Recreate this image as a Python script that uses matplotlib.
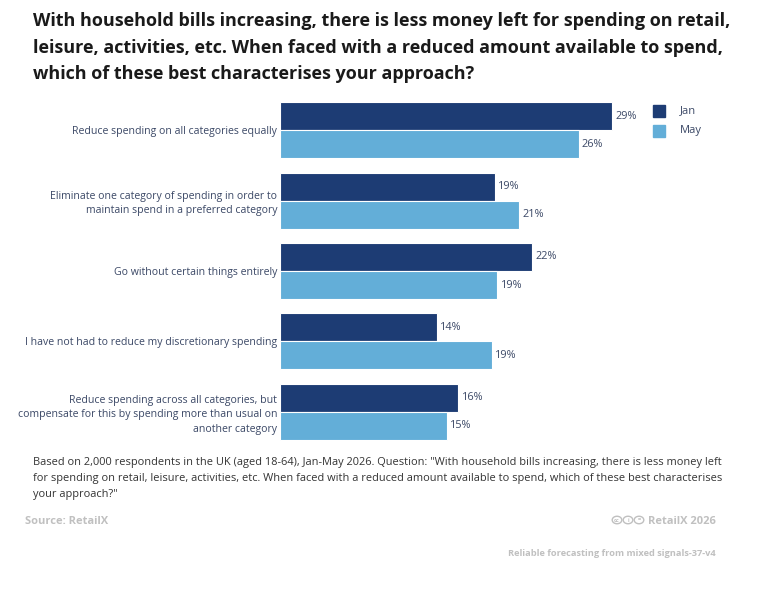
import matplotlib
matplotlib.use("Agg")
import matplotlib.pyplot as plt
from matplotlib import font_manager
from matplotlib.patches import Rectangle, Circle
import numpy as np

categories = [
    "Reduce spending on all categories equally",
    "Eliminate one category of spending in order to\nmaintain spend in a preferred category",
    "Go without certain things entirely",
    "I have not had to reduce my discretionary spending",
    "Reduce spending across all categories, but\ncompensate for this by spending more than usual on\nanother category",
]
jan = [29.0, 18.8, 22.0, 13.7, 15.6]
may = [26.1, 20.9, 19.0, 18.5, 14.6]
jan_labels = ["29%", "19%", "22%", "14%", "16%"]
may_labels = ["26%", "21%", "19%", "19%", "15%"]
series_names = ["Jan", "May"]

title = ("With household bills increasing, there is less money left for spending on retail,\n"
         "leisure, activities, etc. When faced with a reduced amount available to spend,\n"
         "which of these best characterises your approach?")
footnote = ("Based on 2,000 respondents in the UK (aged 18-64), Jan-May 2026. Question: \"With household bills increasing, there is less money left\n"
            "for spending on retail, leisure, activities, etc. When faced with a reduced amount available to spend, which of these best characterises\n"
            "your approach?\"")

names = {f.name for f in font_manager.fontManager.ttflist}
main_font = "Open Sans" if "Open Sans" in names else "DejaVu Sans"

plt.rcParams['font.family'] = [main_font, 'DejaVu Sans']

W, H = 771, 603
fig = plt.figure(figsize=(W/100, H/100), dpi=100)

dark = "#1d3c74"
light = "#63aed8"
label_col = "#3b4866"

ax_l, ax_r, ax_t, ax_b = 280, 646, 93, 449
ax = fig.add_axes([ax_l/W, 1-ax_b/H, (ax_r-ax_l)/W, (ax_b-ax_t)/H])

n = len(categories)
y = np.arange(n)
h = 0.4
ax.barh(y - h/2, jan, height=h, color=dark, edgecolor="white", linewidth=0.8)
ax.barh(y + h/2, may, height=h, color=light, edgecolor="white", linewidth=0.8)
ax.set_ylim(n - 0.5 + 0.03, -0.5 - 0.03)
ax.set_xlim(0, 32)
for i in range(n):
    ax.text(jan[i] + 0.3, y[i] - h/2, jan_labels[i], va="center", ha="left", fontsize=7.8, color=label_col)
    ax.text(may[i] + 0.3, y[i] + h/2, may_labels[i], va="center", ha="left", fontsize=7.8, color=label_col)

ax.set_yticks(y)
ax.set_yticklabels(categories, fontsize=7.6, color=label_col, linespacing=1.4)
ax.tick_params(axis="y", length=0, pad=2)
ax.set_xticks([])
for s in ax.spines.values():
    s.set_visible(False)

# legend
for j, (nm, col) in enumerate(zip(series_names, [dark, light])):
    yy = 111 + j*20
    fig.patches.append(Rectangle((653/W, 1-(yy+6)/H), 12/W, 12/H, transform=fig.transFigure, color=col))
    fig.text(680/W, 1-yy/H, nm, fontsize=8, color=label_col, va="center", ha="left")

fig.text(33/W, 1-12/H, title, fontsize=13, fontweight="bold", color="#1a1a1a", va="top", ha="left", linespacing=1.62)

fig.text(33/W, 1-457/H, footnote, fontsize=7.9, color="#333333", va="top", ha="left", linespacing=1.65)

gray = "#c0c0c0"
fig.text(25/W, 1-522/H, "Source: RetailX", fontsize=8, color=gray, fontweight="bold", va="center", ha="left")
fig.text(716/W, 1-522/H, "RetailX 2026", fontsize=8, color=gray, fontweight="bold", va="center", ha="right")
# CC licence icons (no installed glyphs) drawn as small circles
icon_sym = ["cc", "i", "="]
for k, sym in enumerate(icon_sym):
    cx, cy = 617 + k*11, 520
    fig.patches.append(Circle((cx/W, 1-cy/H), 4.8/W, transform=fig.transFigure,
                              fill=False, edgecolor=gray, linewidth=1.0))
    fig.text(cx/W, 1-cy/H, sym, fontsize=4, color=gray, va="center", ha="center", fontweight="bold")
fig.text(716/W, 1-553/H, "Reliable forecasting from mixed signals-37-v4", fontsize=6.7, color=gray,
         fontweight="bold", va="center", ha="right")

fig.savefig("out.png", dpi=100)
